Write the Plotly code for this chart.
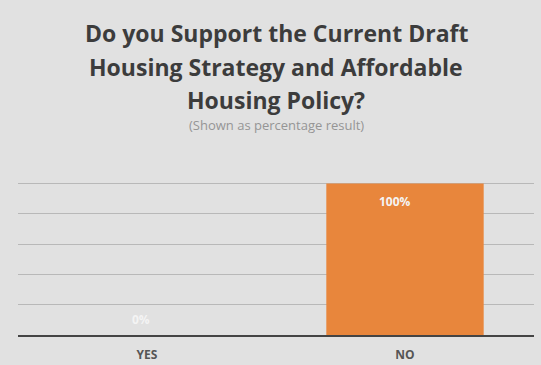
import plotly.graph_objects as go

categories = ["YES", "NO"]
values = [0, 100]
labels = ["0%", "100%"]
title_lines = ["Do you Support the Current Draft", "Housing Strategy and Affordable", "Housing Policy?"]
subtitle = "(Shown as percentage result)"

fig = go.Figure()
fig.add_trace(go.Bar(
    x=categories, y=values,
    marker=dict(color="#E8863C", line=dict(width=0)),
    width=0.61,
    hoverinfo="skip",
))
# value labels
fig.add_annotation(x=categories[0], y=values[0], text="<b>" + labels[0] + "</b>", showarrow=False,
                   yanchor="bottom", yshift=5, xshift=-6, font=dict(color="#f4f4f4", size=12, family="Open Sans"))
fig.add_annotation(x=categories[1], y=values[1], text="<b>" + labels[1] + "</b>", showarrow=False,
                   yanchor="top", yshift=-7, xshift=-10, font=dict(color="#f4f4f4", size=12, family="Open Sans"))

top, bottom = 182, 335
def py(pix):
    return (bottom - pix) / (bottom - top)

for line, ypix in zip(title_lines, [33, 67, 100]):
    fig.add_annotation(text="<b>" + line + "</b>", xref="paper", yref="paper", x=0.5,
                       xanchor="center", y=py(ypix), yanchor="middle", showarrow=False,
                       font=dict(size=23, color="#3c3c3c", family="Open Sans"))
fig.add_annotation(text=subtitle, xref="paper", yref="paper", x=0.5, y=py(125), yanchor="middle",
                   showarrow=False, font=dict(size=13, color="#959595", family="Open Sans"))

fig.update_layout(
    width=541, height=365,
    margin=dict(l=18, r=7, t=top, b=365 - bottom, autoexpand=False),
    paper_bgcolor="#e1e1e1", plot_bgcolor="#e1e1e1",
    showlegend=False,
    font=dict(family="Open Sans"),
)
fig.update_xaxes(showline=True, linecolor="#444444", linewidth=2, automargin=False,
                 tickfont=dict(size=12, color="#555555", family="Open Sans"),
                 tickprefix="<b>", ticksuffix="</b>", ticks="", ticklabelstandoff=8)
fig.update_yaxes(range=[0, 101], tickvals=[20, 40, 60, 80, 100], showticklabels=False,
                 gridcolor="#b8b8b8", gridwidth=1, zeroline=False, automargin=False)
fig.write_html("out.html")
